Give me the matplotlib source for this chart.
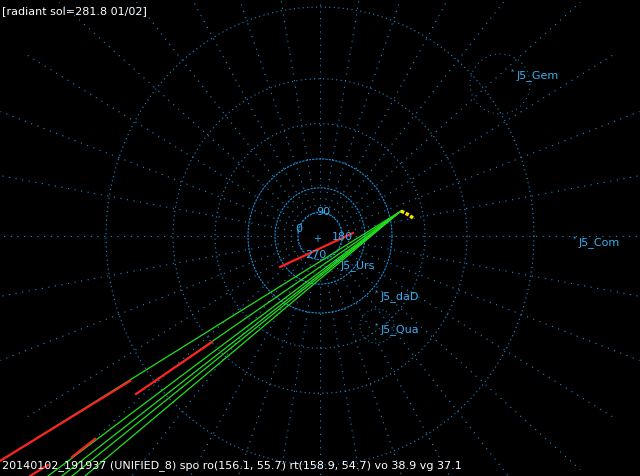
import numpy as np
import matplotlib
matplotlib.use("Agg")
import matplotlib.pyplot as plt

W, H = 640, 477
cx, cy = 320, 237
ring_radii = [22, 45, 72, 105, 147, 214]
spoke_outer = 340
stretch = 1.07
spoke_angles = np.arange(0, 360, 10)
ring_labels = ["0", "90", "180", "270"]
ring_label_pos = [(299, 229), (323, 212), (342, 237), (316, 255)]

radiant = (401, 212)
meteor_ends = [(0, 462), (136, 395), (48, 477), (62, 477), (72, 477), (85, 477)]
red_segments = [((130, 382), (0, 462)), ((212, 343), (136, 395)),
                ((95, 440), (72, 458)), ((280, 268), (353, 234)),
                ((30, 477), (48, 466))]
shower_names = ["J5_Gem", "J5_Com", "J5_Urs", "J5_daD", "J5_Qua"]
shower_pos = [(517, 76), (579, 243), (341, 266), (381, 297), (381, 330)]

fig = plt.figure(figsize=(6.4, 4.77), dpi=100, facecolor="black")
ax = fig.add_axes([0, 0, 1, 1])
ax.set_facecolor("black")
ax.set_xlim(0, W); ax.set_ylim(H, 0); ax.axis("off")

gc = "#1a8fd8"
t = np.linspace(0, 2*np.pi, 800)
for i, r in enumerate(ring_radii):
    ls = (0, (2, 1)) if i < 3 else (0, (1, 3))
    ax.plot(cx + r*np.cos(t), cy + stretch*r*np.sin(t), color=gc, lw=0.8, ls=ls)
for a in spoke_angles:
    ar = np.radians(a)
    ax.plot([cx + ring_radii[0]*np.cos(ar), cx + spoke_outer*np.cos(ar)],
            [cy + stretch*ring_radii[0]*np.sin(ar), cy + stretch*spoke_outer*np.sin(ar)],
            color=gc, lw=0.8, ls=(0, (1, 5)))
for s, (x, y) in zip(ring_labels, ring_label_pos):
    ax.text(x, y, s, color="#3ab0f0", fontsize=8, ha="center", va="center")
ax.text(cx - 3, cy + 2, "+", color="#3ab0f0", fontsize=7, ha="center", va="center")

for (x, y) in meteor_ends:
    ax.plot([radiant[0], x], [radiant[1], y], color="#20e020", lw=0.9)
for (a, b) in red_segments:
    ax.plot([a[0], b[0]], [a[1], b[1]], color="#ff2020", lw=1.6)
ax.plot([401, 405, 409, 413], [212, 214, 216, 219], color="#ffe000", lw=2.5, ls=(0, (1, 0.5)))

for n, (x, y) in zip(shower_names, shower_pos):
    ax.text(x, y, n, color="#3ab0f0", fontsize=8, va="center")
    ax.text(x - 4, y - 4, "*", color="#3ab0f0", fontsize=5, ha="center", va="center")
ax.plot(377 + 17*np.cos(t), 327 + 17*np.sin(t), color=gc, lw=0.7, ls=(0, (1, 3)))
ax.plot(500 + 30*np.cos(t), 85 + 30*np.sin(t), color=gc, lw=0.7, ls=(0, (1, 4)))

ax.text(2, 11, "[radiant sol=281.8 01/02]", color="white", fontsize=8, va="center")
ax.text(2, 466, "20140102_191937 (UNIFIED_8) spo ro(156.1, 55.7) rt(158.9, 54.7) vo 38.9 vg 37.1",
        color="white", fontsize=8, va="center")
fig.savefig("out.png", dpi=100, facecolor="black")
